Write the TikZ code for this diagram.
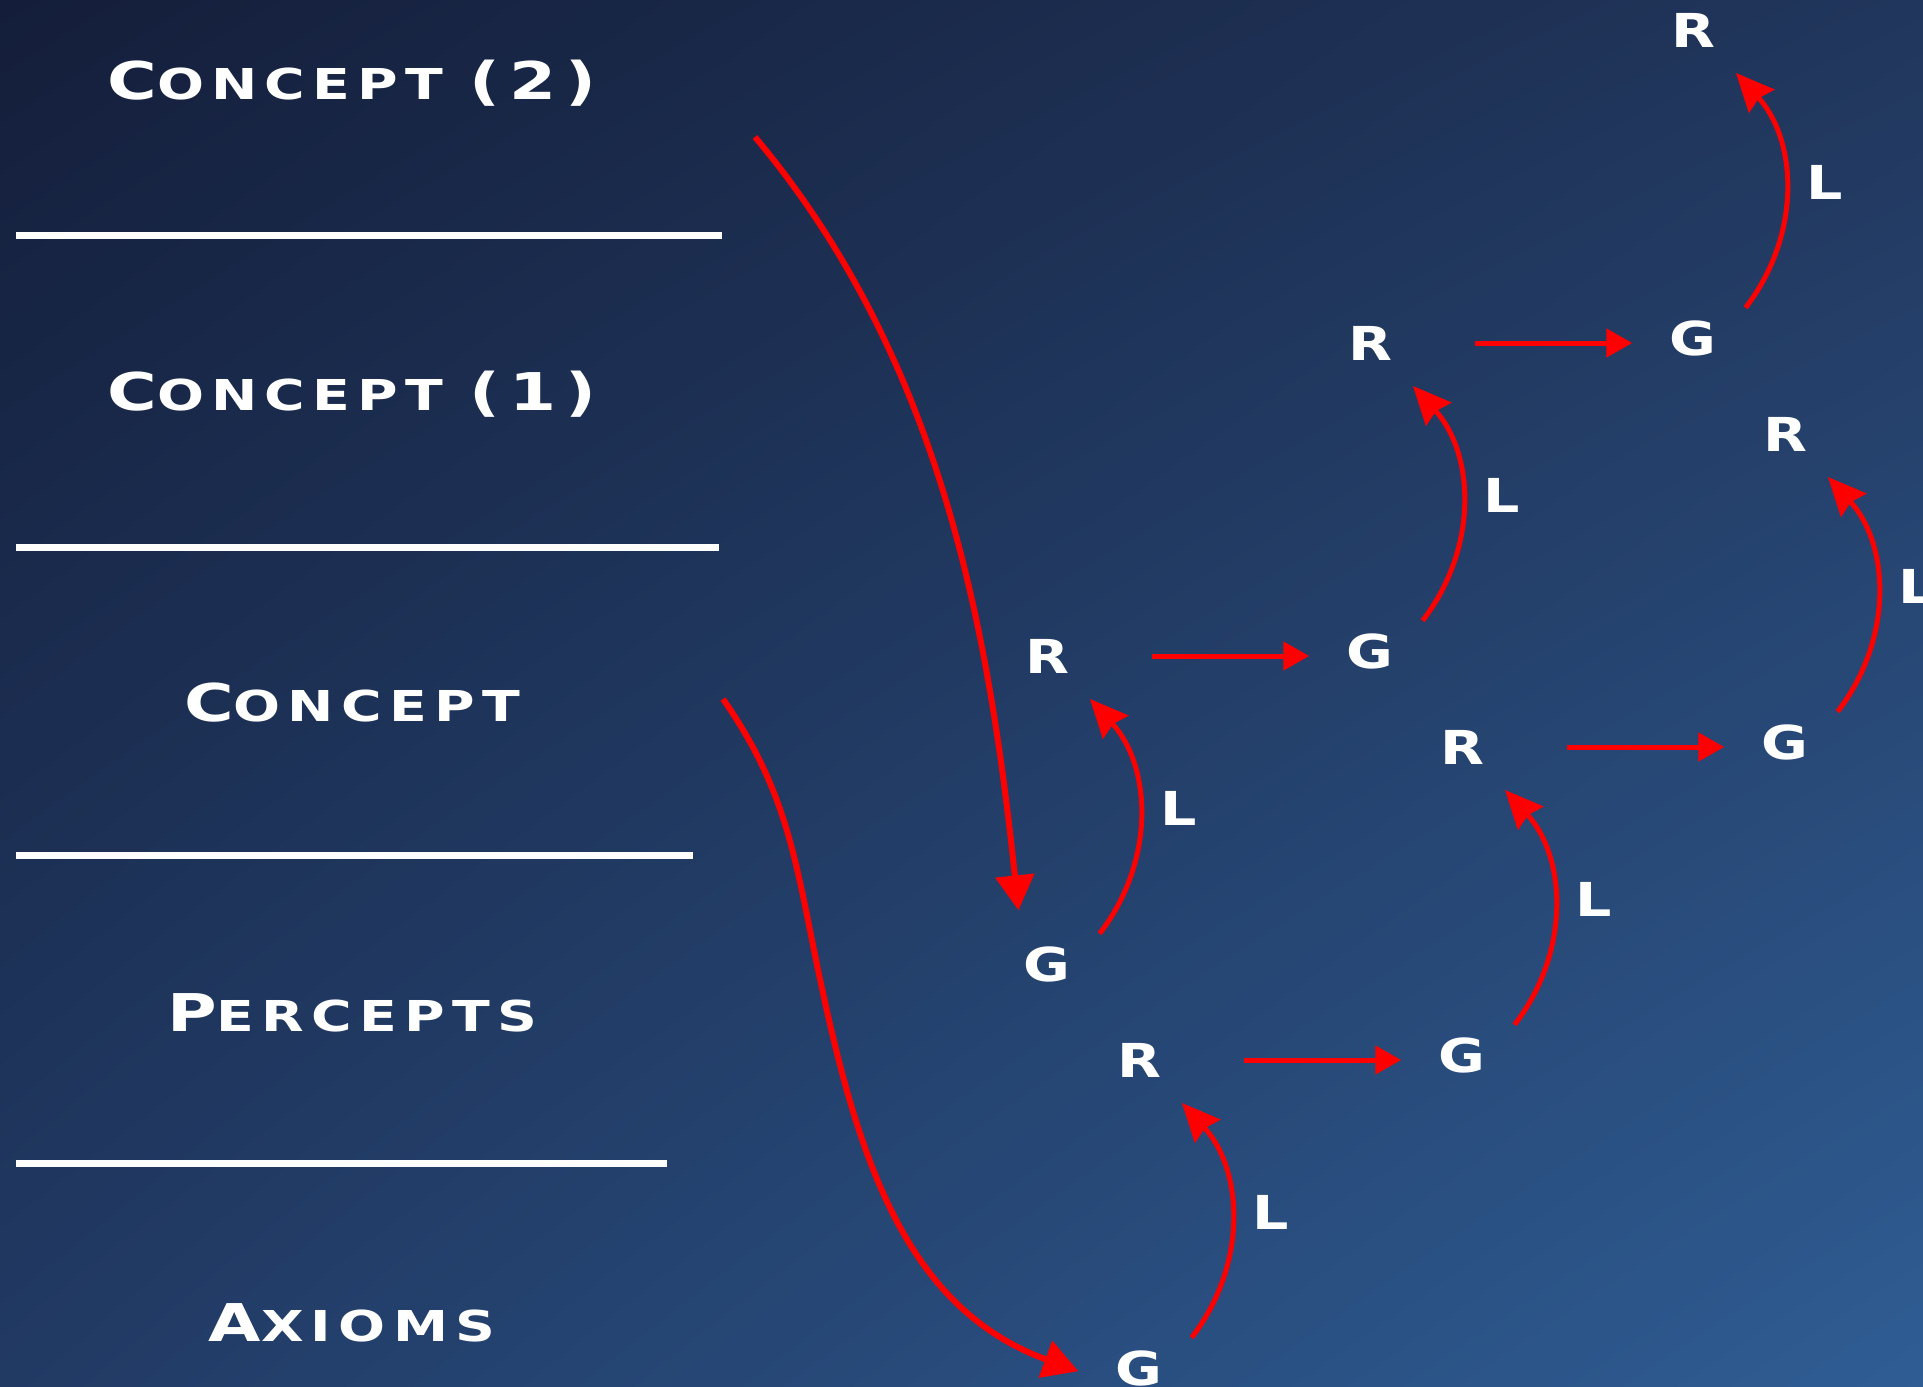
\documentclass[tikz,border=0pt]{standalone}
\usepackage{fontspec}
\usetikzlibrary{arrows.meta, positioning, shadings}
\newfontfamily\slidefont{DejaVu Sans Bold}[FakeStretch=1.22]
\newfontfamily\levelfont{DejaVu Sans Bold}[FakeStretch=1.3, LetterSpace=17]
\newcommand{\capsz}{\fontsize{14.8pt}{16pt}\selectfont}
\newcommand{\smsz}{\fontsize{12.1pt}{14pt}\selectfont}
\definecolor{bgul}{RGB}{20,30,58}
\definecolor{bgur}{RGB}{33,54,92}
\definecolor{bgll}{RGB}{33,58,100}
\definecolor{bglr}{RGB}{47,93,148}

\begin{document}
\begin{tikzpicture}[x=0.01cm, y=0.01cm,
    sym/.style={circle, minimum size=1.2cm, inner sep=0pt, text=white, font=\slidefont\fontsize{13.3pt}{15pt}\selectfont},
    lvl/.style={anchor=base, inner sep=0pt, text=white, font=\levelfont},
    lab/.style={inner sep=0pt, text=white, font=\slidefont\fontsize{13.3pt}{15pt}\selectfont},
    hop/.style={red, line width=0.05cm, -{Triangle[length=0.26cm, width=0.28cm]}, shorten <=0.44cm},
    lift/.style={red, line width=0.05cm, -{Stealth[length=0.38cm, width=0.34cm, inset=0.04cm]}},
    jump/.style={red, line width=0.06cm, -{Triangle[length=0.35cm, width=0.38cm]}}]
    \useasboundingbox (0,0) rectangle (1923,-1387);
    \clip (0,0) rectangle (1923,-1387);
    \shade[upper left=bgul, upper right=bgur, lower left=bgll, lower right=bglr] (0,0) rectangle (1923,-1387);

    % level separators
    \foreach \y/\x in {235/722, 547/719, 855/693, 1163/667} {
        \draw[white, line width=0.07cm] (16,-\y) -- (\x,-\y);
    };

    \node[lvl] (c2) at (352,-99) {\capsz C\smsz ONCEPT \capsz(2)};
    \node[lvl] (c1) at (352,-410) {\capsz C\smsz ONCEPT \capsz(1)};
    \node[lvl] (c0) at (352,-721) {\capsz C\smsz ONCEPT};
    \node[lvl] (pc) at (352,-1031) {\capsz P\smsz ERCEPTS};
    \node[lvl] (ax) at (352,-1341) {\capsz A\smsz XIOMS};

    % lower chain
    \node[sym] (ga0) at (1139,-1368) {G};
    \node[sym] (ra0) at (1139,-1060) {R};
    \node[sym] (ga1) at (1462,-1055) {G};
    \node[sym] (ra1) at (1462,-747) {R};
    \node[sym] (ga2) at (1785,-742) {G};
    \node[sym] (ra2) at (1785,-434) {R};

    % upper chain
    \node[sym] (gb0) at (1047,-964) {G};
    \node[sym] (rb0) at (1047,-656) {R};
    \node[sym] (gb1) at (1370,-651) {G};
    \node[sym] (rb1) at (1370,-343) {R};
    \node[sym] (gb2) at (1693,-338) {G};
    \node[sym] (rb2) at (1693,-30) {R};

    \foreach \g/\r in {ga0/ra0, ga1/ra1, ga2/ra2, gb0/rb0, gb1/rb1, gb2/rb2} {
        \draw[lift] (\g.30) to[bend right=40] node[lab, right=0.19cm, yshift=0.06cm] {L} (\r.-45);
    };

    \draw[hop] (ra0) -- (ra0 -| ga1.west);
    \draw[hop] (ra1) -- (ra1 -| ga2.west);
    \draw[hop] (rb0) -- (rb0 -| gb1.west);
    \draw[hop] (rb1) -- (rb1 -| gb2.west);

    \coordinate (c2out) at (755,-137);
    \coordinate (c0out) at (723,-699);
    \coordinate (dip) at (820,-979);
    \draw[jump] (c2out) to[out=-50, in=96, looseness=0.9] (gb0.118);
    \draw[jump] (c0out) to[out=-55, in=102] (dip) to[out=-78, in=160] (ga0.183);
\end{tikzpicture}
\end{document}
